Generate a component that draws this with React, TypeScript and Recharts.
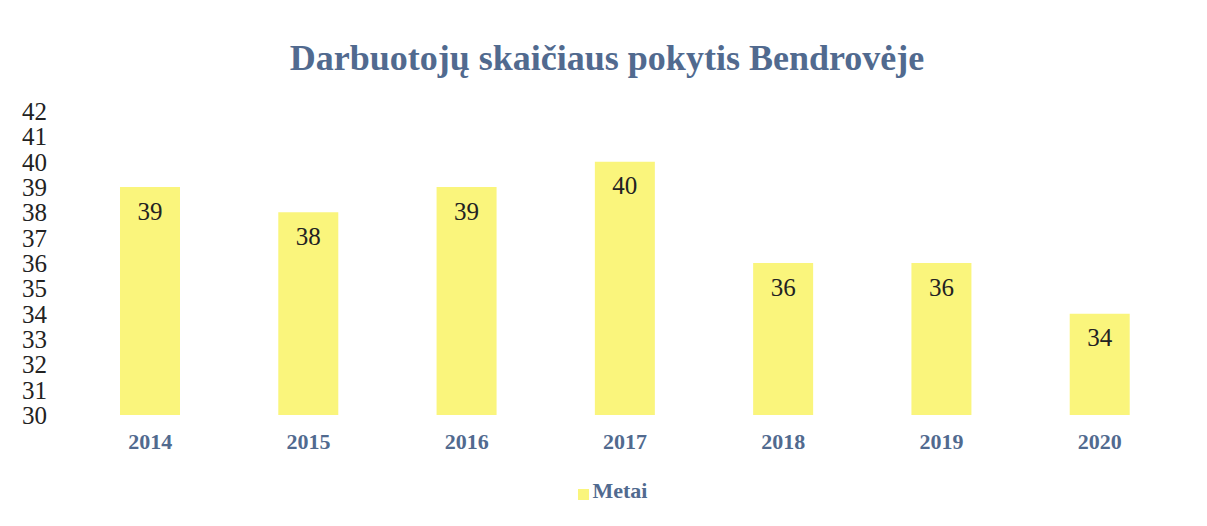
import React from 'react';
import { BarChart, Bar, XAxis, YAxis, LabelList, Legend } from 'recharts';

const years = ['2014', '2015', '2016', '2017', '2018', '2019', '2020'];
const employees = [39, 38, 39, 40, 36, 36, 34];
const yTicks = [30, 31, 32, 33, 34, 35, 36, 37, 38, 39, 40, 41, 42];
const title = 'Darbuotojų skaičiaus pokytis Bendrovėje';
const seriesName = 'Metai';

const data = years.map((y, i) => ({ year: y, value: employees[i] }));

const FONT = '"Liberation Serif", "Times New Roman", serif';
const BLUE = '#516a8f';
const YELLOW = '#faf57c';

export default function App() {
  return (
    <div style={{ position: 'absolute', left: 0, top: 0, width: 1207, height: 526, background: '#fff' }}>
      <div
        style={{
          position: 'absolute',
          left: 0,
          top: 36,
          width: 1214,
          textAlign: 'center',
          fontFamily: FONT,
          fontWeight: 'bold',
          fontSize: 36,
          color: BLUE,
          lineHeight: '44px',
        }}
      >
        {title}
      </div>
      <BarChart
        width={1207}
        height={526}
        data={data}
        margin={{ top: 111, right: 28, left: 0, bottom: 71 }}
        style={{ fontFamily: FONT }}
      >
        <XAxis
          dataKey="year"
          axisLine={false}
          tickLine={false}
          tickMargin={12}
          height={40}
          tick={{ fill: BLUE, fontWeight: 'bold', fontSize: 22, fontFamily: FONT }}
        />
        <YAxis
          domain={[30, 42]}
          ticks={yTicks}
          interval={0}
          axisLine={false}
          tickLine={false}
          width={71}
          tickMargin={18}
          tick={{ fill: '#222', fontSize: 25, fontFamily: FONT }}
        />
        <Legend
          verticalAlign="middle"
          align="center"
          iconType="square"
          iconSize={11}
          wrapperStyle={{ top: 478, left: 14, width: 1207, fontFamily: FONT }}
          formatter={(v: string) => (
            <span style={{ color: BLUE, fontWeight: 'bold', fontSize: 22 }}>{v}</span>
          )}
        />
        <Bar dataKey="value" name={seriesName} fill={YELLOW} barSize={60} isAnimationActive={false}>
          <LabelList
            dataKey="value"
            position="insideTop"
            offset={15}
            style={{ fill: '#222', fontSize: 25, fontFamily: FONT }}
          />
        </Bar>
      </BarChart>
    </div>
  );
}
